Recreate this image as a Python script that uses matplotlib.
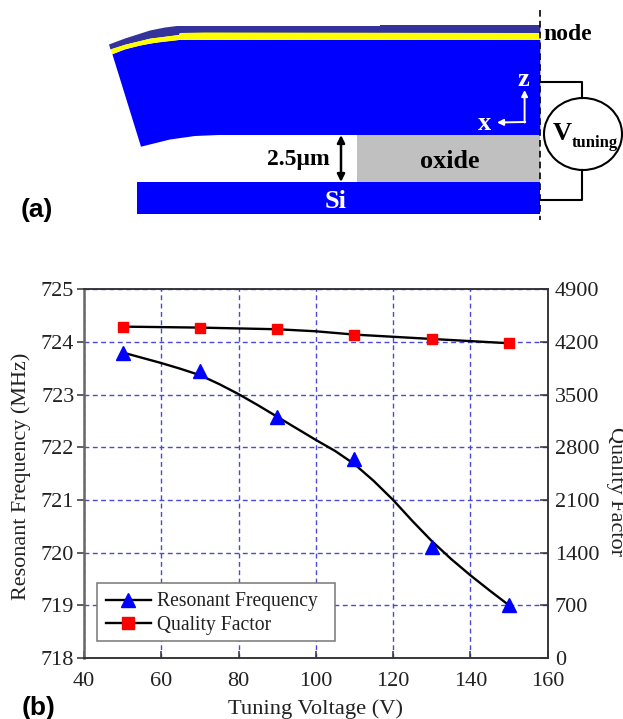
import matplotlib
matplotlib.use("Agg")
import matplotlib.pyplot as plt
from matplotlib.lines import Line2D
from matplotlib.patches import Polygon, Rectangle, Ellipse, FancyArrowPatch

plt.rcParams['font.family'] = ['Liberation Serif', 'DejaVu Sans']

voltage = [50, 70, 90, 110, 130, 150]
freq = [723.80, 723.44, 722.58, 721.77, 720.10, 719.00]
quality = [4404, 4382, 4369, 4294, 4240, 4183]
trend_v = [50, 55, 60, 65, 70, 75, 80, 85, 90, 95, 100, 105, 110, 115, 120, 125, 130, 135, 140, 145, 150]
trend_f = [723.80, 723.70, 723.60, 723.49, 723.37, 723.20, 723.01, 722.80, 722.58, 722.36, 722.14,
           721.93, 721.68, 721.36, 721.00, 720.60, 720.22, 719.88, 719.57, 719.28, 719.00]
trend_qv = [50, 70, 90, 100, 110, 130, 150]
trend_q = [4404, 4391, 4369, 4342, 4298, 4240, 4183]
freq_ticks = [718, 719, 720, 721, 722, 723, 724, 725]
q_ticks = [0, 700, 1400, 2100, 2800, 3500, 4200, 4900]
volt_ticks = [40, 60, 80, 100, 120, 140, 160]

W, H = 623, 719
fig = plt.figure(figsize=(W / 100, H / 100), dpi=100, facecolor='white')

# schematic panel drawn in pixel space
bg = fig.add_axes([0, 0, 1, 1])
bg.set_xlim(0, W)
bg.set_ylim(H, 0)
bg.axis('off')

BLUE = '#0000FF'
beam = [(112.4, 54.3), (125, 49.5), (140, 45.5), (160, 42), (178.8, 40), (540.3, 40), (540.3, 135),
        (218.5, 135), (195, 136), (170, 139.5), (141, 146.7)]
yellow = [(110.5, 49.5), (125, 44.8), (150, 38.7), (179, 35), (180, 33), (205, 32.5), (540.3, 33), (540.3, 40),
          (179, 40), (150, 43.5), (125, 49), (112, 54.3)]
purple = [(109, 44.5), (125, 38.5), (150, 30.5), (165, 27.5), (177, 26), (380, 26), (380, 25), (540.3, 25), (540.3, 33),
          (180, 33), (179, 35), (150, 38.7), (125, 44.8), (110.5, 49.5)]
bg.add_patch(Polygon(beam, closed=True, fc=BLUE, ec='none'))
bg.add_patch(Polygon(purple, closed=True, fc='#333399', ec='none'))
bg.add_patch(Polygon(yellow, closed=True, fc='#FFFF00', ec='none'))
bg.add_patch(Rectangle((357, 135), 183.3, 47, fc='#C0C0C0', ec='none'))
bg.add_patch(Rectangle((137, 182), 403.3, 32, fc=BLUE, ec='none'))
bg.add_line(Line2D([540, 540], [10, 220], color='black', lw=1.2, ls=(0, (4, 2.5))))
bg.add_line(Line2D([540, 581.5, 581.5], [81.5, 81.5, 98], color='black', lw=1.5))
bg.add_line(Line2D([581.5, 581.5, 540], [170, 200, 200], color='black', lw=1.5))
bg.add_patch(Ellipse((583, 134), 78, 72, fc='white', ec='black', lw=1.5))
bg.add_patch(FancyArrowPatch((341, 135), (341, 182), arrowstyle='<|-|>', mutation_scale=11, color='black', lw=1.8, shrinkA=0, shrinkB=0))
bg.add_patch(FancyArrowPatch((524.6, 122.5), (524.6, 90), arrowstyle='-|>', mutation_scale=9, color='white', lw=1.4, shrinkA=0, shrinkB=0))
bg.add_patch(FancyArrowPatch((525.3, 122), (497, 122.5), arrowstyle='-|>', mutation_scale=9, color='white', lw=1.4, shrinkA=0, shrinkB=0))

serif_b = dict(fontweight='bold', ha='center', va='center')
bg.text(567.5, 34, 'node', fontsize=17, color='black', **serif_b)
bg.text(523, 79, 'z', fontsize=19, color='white', **serif_b)
bg.text(485, 124, 'x', fontsize=19, color='white', **serif_b)
bg.text(298.5, 160, '2.5μm', fontsize=17, color='black', **serif_b)
bg.text(450, 161, 'oxide', fontsize=18.8, color='black', **serif_b)
bg.text(335.5, 202, 'Si', fontsize=19, color='white', **serif_b)
bg.text(562.5, 133, 'V', fontsize=19, color='black', **serif_b)
bg.text(595, 143, 'tuning', fontsize=12, color='black', **serif_b)
bg.text(21, 210, '(a)', fontsize=19, fontweight='bold', family='Liberation Sans', ha='left', va='center')
bg.text(22, 708, '(b)', fontsize=19, fontweight='bold', family='Liberation Sans', ha='left', va='center')

# chart panel
L, R, T, B = 84, 547.7, 289.3, 658
ax = fig.add_axes([L / W, 1 - B / H, (R - L) / W, (B - T) / H])
ax.patch.set_alpha(0)
GRID = '#4a4ad6'
ax.set_xlim(40, 160)
ax.set_ylim(718, 725)
ax.set_xticks(volt_ticks)
ax.set_yticks(freq_ticks)
ax.grid(True, color=GRID, lw=1.0, ls=(0, (3.5, 2.5)))
ax.set_axisbelow(True)
ax.tick_params(axis='x', direction='in', length=5, width=1.1, color='#333333', labelsize=16, pad=10, labelcolor='#222222')
ax.tick_params(axis='y', direction='out', length=5, width=1.1, color='#333333', labelsize=16, pad=2, labelcolor='#222222')
ax.set_xlabel('Tuning Voltage (V)', fontsize=16.2, color='#222222', labelpad=6)
ax.set_ylabel('Resonant Frequency (MHz)', fontsize=15.9, color='#222222', labelpad=7)
ax.yaxis.label.set_y(0.4923)

ax2 = ax.twinx()
ax2.set_ylim(0, 4900)
ax2.set_yticks(q_ticks)
ax2.tick_params(axis='y', direction='in', length=6, width=1.1, color='#333333', labelsize=16, pad=5, labelcolor='#222222')

for a in (ax, ax2):
    for name, s in a.spines.items():
        s.set_color('#333333')
        s.set_linewidth(1.1)
ax.spines['left'].set_color('#666666')
ax.spines['left'].set_linewidth(1.8)
ax2.spines['left'].set_visible(False)

ax.plot(trend_v, trend_f, color='black', lw=1.7, zorder=3)
ax.plot(voltage, freq, ls='none', marker='^', ms=9.5, color=BLUE, mec=BLUE, zorder=4, clip_on=False)
ax2.plot(trend_qv, trend_q, color='black', lw=1.7, zorder=3)
ax2.plot(voltage, quality, ls='none', marker='s', ms=7.5, color='#FF0000', mec='#FF0000', zorder=4, clip_on=False)

bg.text(611, 427, 'Quality Factor', fontsize=16, color='#222222', rotation=270,
        ha='left', va='baseline', rotation_mode='anchor', clip_on=False)

# legend box and its entries
ax2.add_patch(Rectangle((96.7 / W, 1 - 641 / H), (335 - 96.7) / W, (641 - 582.7) / H, transform=fig.transFigure,
                        fc='white', ec='#777777', lw=1.1, zorder=8))
handles = [Line2D([], [], color='black', lw=1.7, marker='^', ms=10.5, mfc=BLUE, mec=BLUE),
           Line2D([], [], color='black', lw=1.7, marker='s', ms=8, mfc='#FF0000', mec='#FF0000')]
leg = ax2.legend(handles, ['Resonant Frequency', 'Quality Factor'], loc='lower left',
                 bbox_to_anchor=(97.5 / W, 1 - 643 / H, (335 - 97.5) / W, (643 - 584) / H),
                 bbox_transform=fig.transFigure, mode='expand', borderaxespad=0, fontsize=14.1,
                 handlelength=2.3, handletextpad=0.3, labelspacing=0.22, borderpad=0.42,
                 frameon=False, labelcolor='#222222')
leg.set_zorder(9)

fig.savefig('out.png', dpi=100)
